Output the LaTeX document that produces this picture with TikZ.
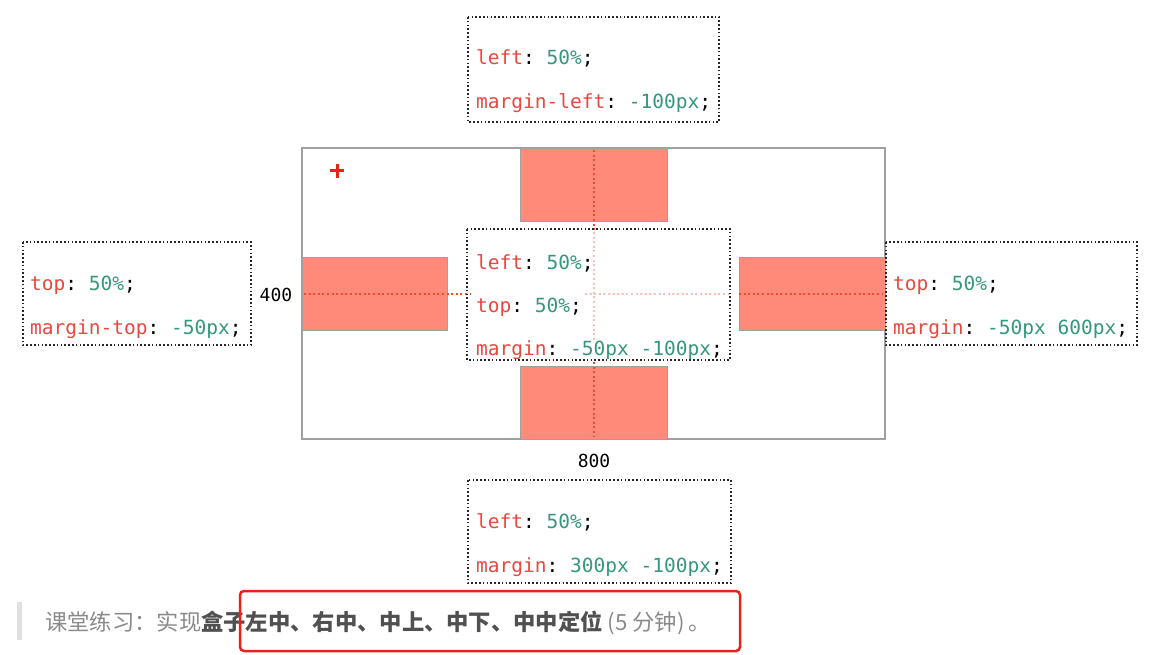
\documentclass[tikz,border=0pt]{standalone}
\usepackage{fontspec}
\setmonofont{DejaVu Sans Mono}
\newfontfamily\cjk{Noto Sans CJK SC}
\definecolor{prop}{HTML}{E8493F}
\definecolor{val}{HTML}{35977D}
\definecolor{salm}{HTML}{FF8A7A}
\definecolor{guide}{HTML}{F04A28}
\definecolor{faint}{HTML}{F8C0B6}
\definecolor{frame}{HTML}{A0A0A0}
\definecolor{lightt}{HTML}{8A8A8A}
\definecolor{darkt}{HTML}{505050}
\definecolor{boxred}{HTML}{E8221A}
\newcommand{\pp}[1]{\textcolor{prop}{#1}}
\newcommand{\vv}[1]{\textcolor{val}{#1}}
\tikzset{
  codeline/.style={anchor=base west, inner sep=0pt, font=\ttfamily\fontsize{19.5}{19.5}\selectfont},
  codebox/.style={draw=black!85, line width=1.6pt, dash pattern=on 1.6pt off 2.2pt},
  redbox/.style={fill=salm, draw=frame, line width=1pt},
  guideline/.style={draw=guide, line width=1.7pt, dash pattern=on 2pt off 2.6pt},
  faintline/.style={draw=faint, line width=1.6pt, dash pattern=on 2pt off 2.6pt},
  dimlabel/.style={anchor=base, inner sep=0pt, font=\ttfamily\fontsize{18}{18}\selectfont},
}
\begin{document}
\begin{tikzpicture}[x=1pt,y=-1pt]
\useasboundingbox[fill=white] (0,0) rectangle (1167,655);
% container
\draw[frame, line width=1.3pt] (302,148) rectangle (885,439);
% faint guide lines
\draw[faintline] (594,232) -- (594,340);
% boxes
\node[redbox, minimum width=147pt, minimum height=73pt, inner sep=0pt, anchor=north west] (topb) at (520,148) {};
\node[redbox, minimum width=145pt, minimum height=73pt, inner sep=0pt, anchor=north west] (leftb) at (302,257) {};
\node[redbox, minimum width=146pt, minimum height=73pt, inner sep=0pt, anchor=north west] (rightb) at (739,257) {};
\node[redbox, minimum width=147pt, minimum height=73pt, inner sep=0pt, anchor=north west] (botb) at (520,366) {};
\draw[guideline] (594,150) -- (594,232);
\draw[guideline] (594,362) -- (594,437);
\draw[guideline] (304,294) -- (470,294);
\draw[faintline] (585,294) -- (730,294);
\draw[guideline] (739,294) -- (883,294);
% plus
\draw[boxred, line width=3pt] (330,171) -- (344,171) (337,164) -- (337,178);
\coordinate (plus) at (337,171);
% code boxes
\draw[codebox] (468,17) rectangle (719,122);
\node[codeline] (t1) at (476,65) {\pp{left}: \vv{50\%};};
\node[codeline] (t2) at (476,109) {\pp{margin-left}: \vv{-100px};};

\draw[codebox] (467,229) rectangle (730,360);
\node[codeline] (c1) at (476,269) {\pp{left}: \vv{50\%};};
\node[codeline] (c2) at (476,312) {\pp{top}: \vv{50\%};};
\node[codeline] (c3) at (476,355) {\pp{margin}: \vv{-50px -100px};};

\draw[codebox] (23,242) rectangle (251,345);
\node[codeline] (l1) at (30,290) {\pp{top}: \vv{50\%};};
\node[codeline] (l2) at (30,334) {\pp{margin-top}: \vv{-50px};};

\draw[codebox] (886,242) rectangle (1137,345);
\node[codeline] (r1) at (893,290) {\pp{top}: \vv{50\%};};
\node[codeline] (r2) at (893,334) {\pp{margin}: \vv{-50px 600px};};

\draw[codebox] (468,480) rectangle (731,583);
\node[codeline] (b1) at (476,528) {\pp{left}: \vv{50\%};};
\node[codeline] (b2) at (476,572) {\pp{margin}: \vv{300px -100px};};
% dimension labels
\node[dimlabel] (h400) at (276,301) {400};
\node[dimlabel] (w800) at (594,467) {800};
% footer
\fill[black!12] (17,602) rectangle (22,640);
\node[anchor=base west, inner sep=0pt, font=\cjk\fontsize{22.3}{22.3}\selectfont] (task) at (45,630)
  {\textcolor{lightt}{课堂练习：实现}\textcolor{darkt}{\bfseries 盒子左中、右中、中上、中下、中中定位}\textcolor{lightt}{\hspace{5pt}(5 分钟)\hspace{4pt}。}};
\draw[boxred, line width=2.5pt, rounded corners=4pt] (240,591) rectangle (740,651);
\end{tikzpicture}
\end{document}
